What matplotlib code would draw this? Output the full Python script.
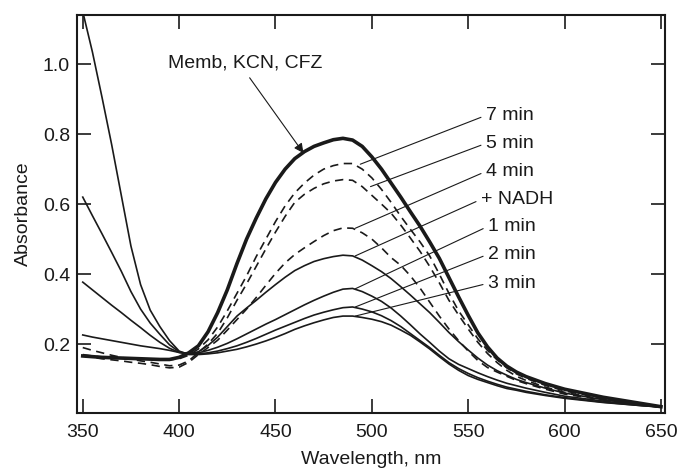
import matplotlib
matplotlib.use("Agg")
from matplotlib import pyplot as plt

plt.rcParams['font.family'] = ['Liberation Sans', 'DejaVu Sans']
plt.rcParams['lines.scale_dashes'] = False

# wavelength grid (nm)
wl = [350, 355, 360, 365, 370, 375, 380, 385, 390, 395, 400, 405, 410, 415, 420, 425,
      430, 435, 440, 445, 450, 455, 460, 465, 470, 475, 480, 485, 490, 495, 500, 505,
      510, 515, 520, 525, 530, 535, 540, 545, 550, 555, 560, 565, 570, 575, 580, 590,
      600, 620, 640, 650]

# absorbance spectra
memb = [.166, .164, .162, .161, .160, .159, .158, .157, .156, .156, .162, .175, .195, .235,
        .290, .355, .430, .500, .560, .615, .662, .700, .730, .750, .765, .775, .784, .788,
        .783, .765, .735, .700, .660, .620, .578, .537, .492, .445, .390, .335, .282, .232,
        .192, .160, .137, .120, .107, .087, .071, .048, .030, .021]
min7 = [.170, .166, .163, .161, .160, .159, .158, .157, .156, .155, .158, .168, .186, .212,
        .249, .295, .345, .395, .450, .500, .550, .595, .632, .660, .683, .700, .710, .716,
        .716, .700, .675, .642, .605, .565, .528, .492, .452, .400, .345, .295, .255, .215,
        .182, .155, .132, .115, .102, .082, .066, .045, .029, .021]
min5 = [.190, .182, .175, .168, .162, .157, .152, .148, .143, .138, .140, .152, .176, .200,
        .231, .275, .325, .372, .422, .472, .520, .565, .605, .628, .645, .658, .666, .670,
        .668, .650, .625, .600, .574, .540, .503, .465, .422, .375, .325, .283, .243, .205,
        .173, .147, .125, .108, .096, .077, .062, .042, .028, .020]
min4 = [.166, .162, .158, .155, .152, .148, .145, .141, .136, .132, .134, .148, .170, .190,
        .211, .240, .270, .300, .333, .368, .402, .432, .456, .475, .493, .510, .524, .532,
        .531, .518, .500, .475, .447, .425, .395, .360, .320, .280, .243, .210, .180, .153,
        .133, .120, .108, .096, .087, .071, .057, .040, .027, .020]
nadh = [.226, .220, .215, .210, .205, .200, .195, .191, .187, .182, .176, .172, .178, .196,
        .220, .250, .280, .303, .325, .348, .370, .391, .410, .424, .436, .444, .450, .454,
        .452, .440, .424, .407, .387, .364, .340, .315, .290, .262, .233, .207, .183, .160,
        .140, .124, .111, .099, .090, .074, .060, .041, .027, .020]
min1 = [.377, .355, .333, .311, .290, .268, .247, .225, .205, .188, .176, .172, .175, .182,
        .191, .202, .215, .229, .243, .257, .270, .284, .298, .312, .325, .337, .348, .357,
        .359, .350, .337, .322, .303, .280, .255, .229, .205, .180, .158, .142, .130, .118,
        .107, .097, .088, .081, .074, .062, .051, .037, .025, .020]
min2 = [.620, .567, .515, .462, .408, .350, .300, .260, .228, .198, .178, .172, .172, .175,
        .180, .187, .195, .205, .216, .228, .240, .251, .262, .273, .283, .291, .298, .304,
        .306, .300, .292, .281, .267, .250, .230, .210, .190, .168, .147, .130, .116, .104,
        .094, .085, .077, .071, .065, .055, .047, .034, .024, .020]
min3 = [1.15, 1.035, .905, .770, .625, .480, .370, .297, .250, .210, .180, .170, .170, .172,
        .175, .180, .185, .192, .200, .209, .219, .230, .242, .252, .261, .269, .276, .280,
        .280, .276, .271, .264, .254, .240, .225, .206, .186, .164, .143, .125, .110, .099,
        .090, .081, .073, .068, .062, .053, .045, .033, .024, .020]

# labels and where their leader lines end
labels = ['7 min', '5 min', '4 min', '+ NADH', '1 min', '2 min', '3 min']
label_x = [559.4, 559.4, 559.4, 556.8, 560.5, 560.5, 560.5]
label_y = [0.854, 0.774, 0.694, 0.614, 0.537, 0.457, 0.374]
point_x = [494.0, 499.3, 491.4, 491.4, 491.4, 491.4, 491.4]
point_y = [0.714, 0.650, 0.531, 0.452, 0.358, 0.306, 0.280]

fig = plt.figure(figsize=(6.77, 4.74), dpi=100)
ax = fig.add_axes([0.1137, 0.1287, 0.8683, 0.8393])

k = '#1a1a1a'
ax.plot(wl, memb, color=k, lw=2.6)
for y in [min7, min5, min4]:
    ax.plot(wl, y, color=k, lw=1.2, linestyle=(0, (6, 4)))
for y in [nadh, min1, min2, min3]:
    ax.plot(wl, y, color=k, lw=1.2)

ax.set_xlim(347, 652)
ax.set_ylim(0.003, 1.14)
ax.set_xticks([350, 400, 450, 500, 550, 600, 650])
ax.set_yticks([0.2, 0.4, 0.6, 0.8, 1.0])
ax.set_yticklabels(['0.2', '0.4', '0.6', '0.8', '1.0'])
ax.tick_params(direction='in', length=10, width=1.2, top=True, right=True,
               labelsize=14, colors=k)
ax.tick_params(axis='x', pad=8)
ax.tick_params(axis='y', pad=5)
for s in ax.spines.values():
    s.set_linewidth(1.5)
    s.set_color(k)

ax.set_xlabel('Wavelength, nm', fontsize=14, labelpad=7, color=k)
ax.set_ylabel('Absorbance', fontsize=14, labelpad=8, color=k)

# main label with filled arrow
ax.annotate('Memb, KCN, CFZ', xy=(464.5, 0.746), xytext=(434.3, 1.003),
            ha='center', va='center', fontsize=14, color=k,
            arrowprops=dict(arrowstyle='-|>', color=k, lw=0.8, relpos=(0.5, 0),
                            shrinkA=3, shrinkB=0, mutation_scale=14))

for t, tx, ty, px, py in zip(labels, label_x, label_y, point_x, point_y):
    ax.annotate(t, xy=(px, py), xytext=(tx, ty), ha='left', va='center',
                fontsize=14, color=k,
                arrowprops=dict(arrowstyle='-', color=k, lw=0.8, relpos=(0, 0.5),
                                shrinkA=2, shrinkB=0))

plt.savefig('out.png', dpi=100)
